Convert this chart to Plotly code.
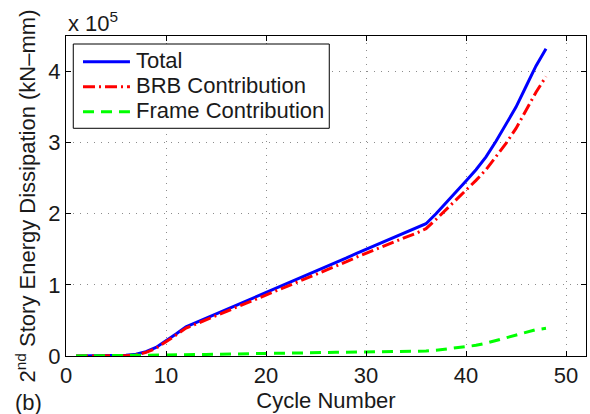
import plotly.graph_objects as go

# Cumulative energy dissipated in the 2nd story, in units of 1e5 kN-mm
cycles = list(range(1, 49))

total = [0.000, 0.001, 0.002, 0.003, 0.005, 0.010, 0.025, 0.060, 0.120, 0.210,
         0.310, 0.410, 0.470, 0.530, 0.590, 0.650, 0.710, 0.770, 0.830, 0.895,
         0.955, 1.015, 1.075, 1.135, 1.195, 1.255, 1.315, 1.375, 1.440, 1.500,
         1.560, 1.620, 1.680, 1.735, 1.790, 1.860, 2.000, 2.150, 2.300, 2.460,
         2.620, 2.800, 3.020, 3.250, 3.500, 3.790, 4.080, 4.320]

brb = [0.000, 0.000, 0.000, 0.000, 0.001, 0.004, 0.017, 0.050, 0.108, 0.196,
       0.294, 0.392, 0.450, 0.508, 0.565, 0.622, 0.680, 0.737, 0.795, 0.857,
       0.915, 0.973, 1.031, 1.089, 1.147, 1.205, 1.264, 1.323, 1.386, 1.445,
       1.503, 1.562, 1.620, 1.673, 1.725, 1.790, 1.920, 2.055, 2.190, 2.335,
       2.470, 2.620, 2.800, 2.990, 3.200, 3.450, 3.710, 3.930]

frame = [0.000, 0.001, 0.002, 0.003, 0.004, 0.006, 0.008, 0.010, 0.012, 0.014,
         0.016, 0.018, 0.020, 0.022, 0.025, 0.028, 0.030, 0.033, 0.035, 0.038,
         0.040, 0.042, 0.044, 0.046, 0.048, 0.050, 0.051, 0.052, 0.054, 0.055,
         0.057, 0.058, 0.060, 0.062, 0.065, 0.070, 0.080, 0.095, 0.110, 0.125,
         0.150, 0.180, 0.220, 0.260, 0.300, 0.340, 0.370, 0.390]

series_names = ["Total", "BRB Contribution", "Frame Contribution"]
x_ticks = [0, 10, 20, 30, 40, 50]
y_ticks = [0, 1, 2, 3, 4]

FONT = "Liberation Sans, Arial, Helvetica, sans-serif"
FS = 22
TXT = "#1a1a1a"

styles = [
    dict(color="#0000ff", width=3, dash="solid"),
    dict(color="#ff0000", width=3, dash="12px,4px,2px,4px"),
    dict(color="#00ff00", width=3, dash="11px,7px"),
]

fig = go.Figure()
for name, values, style in zip(series_names, [total, brb, frame], styles):
    fig.add_trace(go.Scatter(x=cycles, y=values, mode="lines", name=name,
                             line=style, showlegend=False))

axis_common = dict(
    showline=True, linecolor="black", linewidth=1, mirror="ticks",
    ticks="inside", ticklen=5, tickcolor="black", tickwidth=1,
    showgrid=True, gridcolor="#8c8c8c", gridwidth=1, griddash="1px,6px",
    zeroline=False, tickfont=dict(family=FONT, size=FS, color=TXT),
)

fig.update_xaxes(range=[0, 52], tickvals=x_ticks,
                 title=dict(text="Cycle Number", standoff=2,
                            font=dict(family=FONT, size=FS, color=TXT)),
                 **axis_common)
fig.update_yaxes(range=[0, 4.5], tickvals=y_ticks,
                 title=dict(text="2<sup>nd</sup> Story Energy Dissipation (kN\u2013mm)",
                            standoff=6,
                            font=dict(family=FONT, size=FS, color=TXT)),
                 **axis_common)

fig.add_annotation(text="x 10<sup>5</sup>", xref="paper", yref="paper",
                   x=0.0, y=1.044, xanchor="left", yanchor="middle",
                   showarrow=False, font=dict(family=FONT, size=FS, color=TXT))
fig.add_annotation(text="(b)", xref="paper", yref="paper",
                   x=-0.073, y=-0.144, xanchor="center", yanchor="middle",
                   showarrow=False, font=dict(family=FONT, size=FS, color=TXT))

# Legend box drawn in paper coordinates
box_x0, box_x1 = 0.014, 0.5063
box_y0, box_y1 = 0.7116, 0.975
fig.add_shape(type="rect", xref="paper", yref="paper",
              x0=box_x0, x1=box_x1, y0=box_y0, y1=box_y1,
              line=dict(color="black", width=1), fillcolor="white", layer="above")
row_y = [0.9197, 0.8416, 0.7634]
for name, style, ry in zip(series_names, styles, row_y):
    fig.add_shape(type="line", xref="paper", yref="paper",
                  x0=0.0327, x1=0.123, y0=ry, y1=ry,
                  line=style, layer="above")
    fig.add_annotation(text=name, xref="paper", yref="paper",
                       x=0.1317, y=ry + 0.004, xanchor="left", yanchor="middle",
                       showarrow=False,
                       font=dict(family=FONT, size=FS, color=TXT))

fig.update_layout(
    width=590, height=414,
    margin=dict(l=66, r=4, t=36, b=58),
    paper_bgcolor="white", plot_bgcolor="white",
    showlegend=False,
)

fig.write_html("out.html")
